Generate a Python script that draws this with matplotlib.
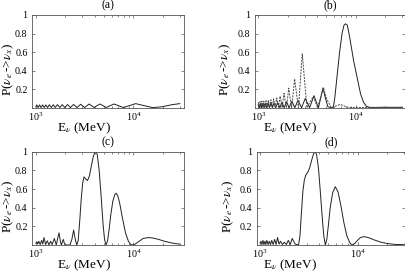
import numpy as np
import matplotlib
matplotlib.use("Agg")
import matplotlib.pyplot as plt
from matplotlib.ticker import LogLocator, FixedLocator, FixedFormatter, NullFormatter

plt.rcParams['font.family'] = 'serif'
plt.rcParams['font.serif'] = ['Liberation Serif', 'DejaVu Serif']
plt.rcParams['mathtext.fontset'] = 'stix'

# ------------------------------
# data (log10 of E in MeV, probability)
# ------------------------------
a_loge = [3.000, 3.010, 3.024, 3.039, 3.054, 3.070, 3.086, 3.103, 3.121, 3.139,
          3.159, 3.179, 3.200, 3.222, 3.246, 3.271, 3.297, 3.325, 3.355, 3.387,
          3.422, 3.460, 3.501, 3.547, 3.598, 3.656, 3.723, 3.760, 3.802, 3.850,
          3.899, 3.960, 4.024, 4.112, 4.200, 4.300, 4.400, 4.477]
a_prob = [0.010, 0.030, 0.002, 0.030, 0.002, 0.030, 0.002, 0.030, 0.002, 0.032,
          0.002, 0.032, 0.002, 0.033, 0.002, 0.033, 0.002, 0.034, 0.002, 0.035,
          0.002, 0.037, 0.002, 0.040, 0.002, 0.040, 0.002, 0.021, 0.040, 0.021,
          0.002, 0.022, 0.044, 0.022, 0.001, 0.011, 0.033, 0.044]

b_solid_loge = [3.000, 3.013, 3.024, 3.035, 3.047, 3.060, 3.072, 3.086, 3.100, 3.115,
                3.130, 3.146, 3.163, 3.180, 3.200, 3.222, 3.243, 3.266, 3.290, 3.317,
                3.345, 3.376, 3.408, 3.445, 3.464, 3.483, 3.505, 3.528, 3.550, 3.572,
                3.595, 3.618, 3.640, 3.665, 3.690, 3.715, 3.745, 3.770, 3.785, 3.810,
                3.835, 3.860, 3.880, 3.895, 3.915, 3.940, 3.980, 4.020, 4.050, 4.080,
                4.110, 4.145, 4.200, 4.300, 4.400, 4.477]
b_solid_prob = [0.035, 0.000, 0.045, 0.000, 0.045, 0.000, 0.045, 0.000, 0.050, 0.000,
                0.050, 0.000, 0.050, 0.000, 0.055, 0.000, 0.060, 0.000, 0.065, 0.000,
                0.070, 0.000, 0.080, 0.000, 0.050, 0.100, 0.050, 0.000, 0.065, 0.130,
                0.065, 0.000, 0.100, 0.210, 0.100, 0.010, 0.000, 0.000, 0.100, 0.350,
                0.600, 0.800, 0.890, 0.905, 0.890, 0.750, 0.500, 0.300, 0.150, 0.060,
                0.015, 0.003, 0.003, 0.005, 0.004, 0.005]

b_dash_loge = [3.000, 3.010, 3.019, 3.028, 3.038, 3.048, 3.058, 3.069, 3.080, 3.092,
               3.104, 3.117, 3.130, 3.144, 3.158, 3.174, 3.190, 3.207, 3.225, 3.245,
               3.265, 3.289, 3.301, 3.313, 3.328, 3.343, 3.358, 3.374, 3.393, 3.413,
               3.432, 3.452, 3.476, 3.500, 3.530, 3.565, 3.610, 3.640, 3.668, 3.700,
               3.750, 3.800, 3.842, 3.890, 3.930, 4.100, 4.300, 4.477]
b_dash_prob = [0.060, 0.005, 0.065, 0.005, 0.070, 0.005, 0.070, 0.005, 0.075, 0.005,
               0.080, 0.005, 0.085, 0.005, 0.095, 0.005, 0.105, 0.005, 0.125, 0.000,
               0.155, 0.000, 0.100, 0.210, 0.100, 0.000, 0.150, 0.310, 0.150, 0.000,
               0.290, 0.580, 0.290, 0.000, 0.060, 0.120, 0.000, 0.110, 0.220, 0.100,
               0.000, 0.020, 0.036, 0.015, 0.003, 0.002, 0.002, 0.002]

c_loge = [3.000, 3.010, 3.020, 3.030, 3.045, 3.060, 3.072, 3.084, 3.100, 3.118,
          3.135, 3.152, 3.168, 3.190, 3.210, 3.224, 3.238, 3.252, 3.262, 3.272,
          3.282, 3.295, 3.310, 3.350, 3.370, 3.388, 3.405, 3.420, 3.435, 3.450,
          3.465, 3.480, 3.494, 3.510, 3.530, 3.550, 3.570, 3.590, 3.605, 3.617,
          3.630, 3.650, 3.670, 3.690, 3.705, 3.720, 3.735, 3.750, 3.770, 3.790,
          3.810, 3.823, 3.840, 3.860, 3.890, 3.920, 3.950, 3.975, 3.993, 4.020,
          4.060, 4.100, 4.154, 4.200, 4.260, 4.320, 4.380, 4.430, 4.477]
c_prob = [0.020, 0.035, 0.010, 0.040, 0.005, 0.050, 0.010, 0.080, 0.005, 0.045,
          0.000, 0.040, 0.005, 0.070, 0.000, 0.070, 0.130, 0.040, 0.000, 0.030,
          0.060, 0.010, 0.000, 0.000, 0.060, 0.160, 0.060, 0.000, 0.050, 0.250,
          0.480, 0.660, 0.730, 0.710, 0.690, 0.740, 0.850, 0.950, 0.990, 1.000,
          0.970, 0.800, 0.520, 0.220, 0.060, 0.000, 0.040, 0.150, 0.330, 0.470,
          0.540, 0.555, 0.530, 0.450, 0.280, 0.130, 0.040, 0.005, 0.000, 0.010,
          0.040, 0.070, 0.080, 0.075, 0.060, 0.040, 0.025, 0.015, 0.010]

d_loge = [3.000, 3.010, 3.020, 3.030, 3.040, 3.050, 3.060, 3.070, 3.083, 3.095,
          3.108, 3.120, 3.135, 3.150, 3.165, 3.180, 3.195, 3.210, 3.230, 3.250,
          3.270, 3.290, 3.310, 3.330, 3.360, 3.395, 3.410, 3.425, 3.440, 3.455,
          3.470, 3.490, 3.510, 3.530, 3.550, 3.567, 3.580, 3.600, 3.620, 3.640,
          3.655, 3.670, 3.685, 3.700, 3.720, 3.745, 3.772, 3.800, 3.830, 3.860,
          3.890, 3.920, 3.943, 3.970, 4.000, 4.030, 4.067, 4.110, 4.170, 4.240,
          4.310, 4.390, 4.477]
d_prob = [0.020, 0.040, 0.005, 0.050, 0.005, 0.040, 0.005, 0.050, 0.005, 0.040,
          0.005, 0.050, 0.005, 0.060, 0.005, 0.080, 0.010, 0.040, 0.005, 0.030,
          0.005, 0.050, 0.005, 0.070, 0.010, 0.000, 0.100, 0.350, 0.580, 0.700,
          0.750, 0.780, 0.830, 0.910, 0.980, 1.000, 0.970, 0.820, 0.550, 0.270,
          0.090, 0.000, 0.060, 0.200, 0.400, 0.560, 0.625, 0.570, 0.420, 0.240,
          0.100, 0.025, 0.000, 0.015, 0.050, 0.080, 0.090, 0.080, 0.055, 0.030,
          0.015, 0.006, 0.003]

panel_titles = ['(a)', '(b)', '(c)', '(d)']
ytick_vals = [0.2, 0.4, 0.6, 0.8, 1.0]
ytick_text = ['0.2', '0.4', '0.6', '0.8', '1']

# axes rectangles in pixels, x range in log10, label places in pixels
W, H = 406.0, 273.0
boxes = [(32.3, 15.0, 184.0, 107.7), (254.6, 15.0, 405.0, 107.7),
         (32.3, 151.7, 184.0, 245.0), (256.8, 151.7, 405.0, 245.0)]
xranges = [(2.964, 4.520), (2.963, 4.506), (2.964, 4.520), (2.967, 4.487)]
ylab_off = [24.5, 29.6, 24.3, 28.8]
xlab_off = [20.6, 20.6, 20.2, 20.2]
xlab_x = [84.0, 290.5, 84.0, 290.5]
title_off = [10.0, 10.0, 9.5, 9.5]

fig = plt.figure(figsize=(W / 100, H / 100), dpi=100)
line_col = '#222222'
frame_col = '#555555'

axes = []
for i, ((x0, y0, x1, y1), (lo, hi), title) in enumerate(zip(boxes, xranges, panel_titles)):
    wpx, hpx = x1 - x0, y1 - y0
    ax = fig.add_axes([x0 / W, 1 - y1 / H, wpx / W, hpx / H])
    ax.set_xscale('log')
    ax.set_xlim(10 ** lo, 10 ** hi)
    ax.set_ylim(0, 1)
    ax.yaxis.set_major_locator(FixedLocator(ytick_vals))
    ax.yaxis.set_major_formatter(FixedFormatter(ytick_text))
    ax.xaxis.set_major_locator(LogLocator(base=10, numticks=5))
    ax.xaxis.set_minor_locator(LogLocator(base=10, subs=np.arange(2, 10), numticks=10))
    ax.xaxis.set_minor_formatter(NullFormatter())
    ax.tick_params(which='both', direction='in', top=True, right=True,
                   labelsize=7.2, color=frame_col, width=0.5)
    ax.tick_params(axis='x', pad=1.8)
    ax.tick_params(axis='y', pad=3.4)
    ax.tick_params(which='major', length=2.2)
    ax.tick_params(which='minor', length=1.2)
    for sp in ax.spines.values():
        sp.set_color(frame_col)
        sp.set_linewidth(0.6)
    ax.text(0.5, 1 + title_off[i] / hpx, title, transform=ax.transAxes,
            ha='center', va='center', fontsize=8.5)
    ax.set_xlabel(r'E$_\nu$ (MeV)', fontsize=9.5, va='center')
    ax.xaxis.set_label_coords((xlab_x[i] - x0) / wpx, -xlab_off[i] / hpx)
    ax.set_ylabel(r'P($\nu_e\,$->$\nu_x$)', fontsize=9.5, va='center')
    ax.yaxis.set_label_coords(-ylab_off[i] / wpx, 0.41)
    axes.append(ax)

ax_a, ax_b, ax_c, ax_d = axes
ax_a.plot(10 ** np.array(a_loge), a_prob, color=line_col, lw=0.7)
ax_b.plot(10 ** np.array(b_solid_loge), b_solid_prob, color=line_col, lw=0.7)
ax_b.plot(10 ** np.array(b_dash_loge), b_dash_prob, color='#444444', lw=0.7,
          linestyle=(0, (2.0, 1.2)))
ax_c.plot(10 ** np.array(c_loge), c_prob, color=line_col, lw=0.7)
ax_d.plot(10 ** np.array(d_loge), d_prob, color=line_col, lw=0.7)

fig.savefig('out.png', dpi=100)
